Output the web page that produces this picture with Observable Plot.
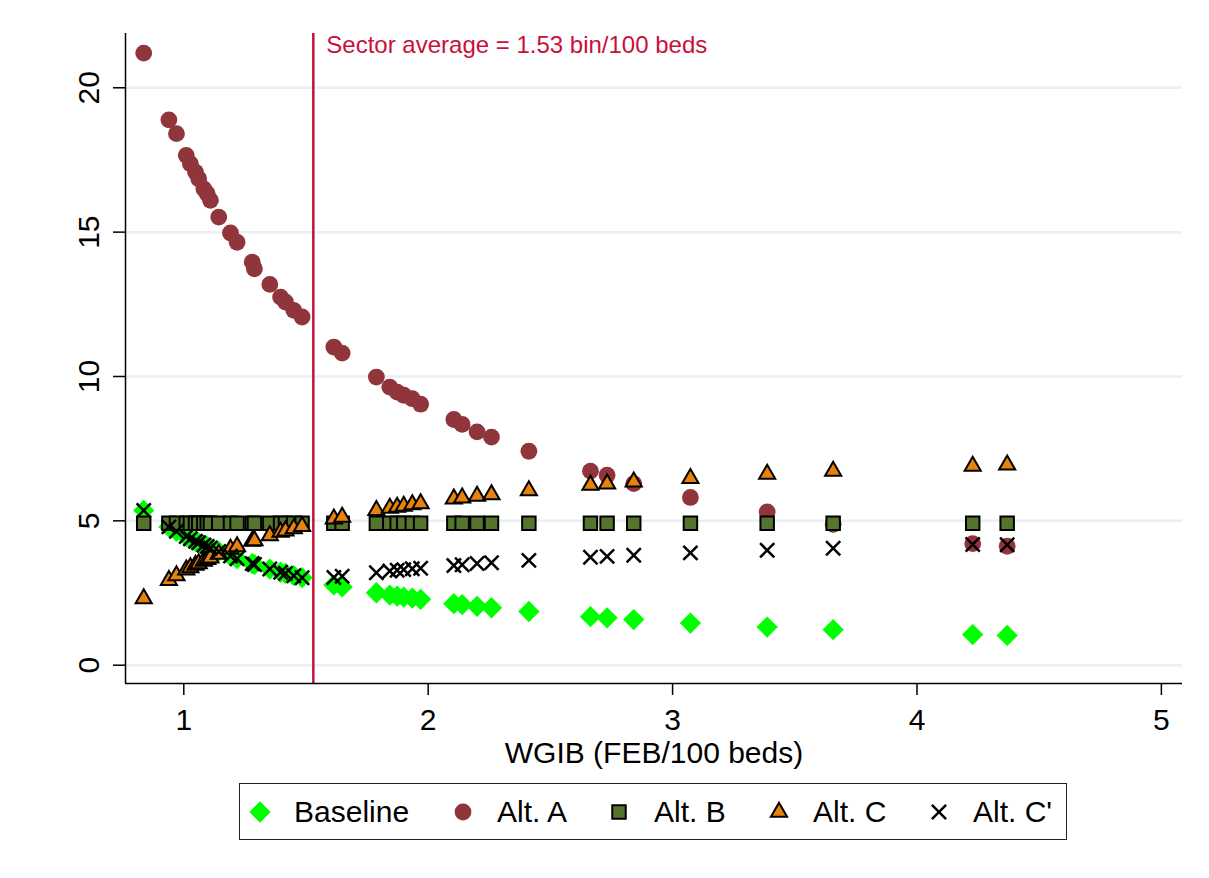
<!DOCTYPE html>
<html>
<head>
<meta charset="utf-8">
<script src="https://cdn.jsdelivr.net/npm/d3@7"></script>
<script src="https://cdn.jsdelivr.net/npm/@observablehq/plot@0.6"></script>
<style>
  body { margin: 0; background: #fff; font-family: "Liberation Sans", Arial, sans-serif; }
  #legend { position: relative; margin-left: 239px; margin-top: 13px; width: 828px; height: 57px;
            box-sizing: border-box; border: 1.5px solid #222; background: #fff; }
  .mk { position: absolute; top: 50%; transform: translate(-50%, -50%); display: block; }
  .lb { position: absolute; top: 50%; transform: translateY(-50%); font-size: 30px; color: #000; white-space: nowrap; line-height: 1; }
</style>
</head>
<body>
<div id="chart"></div>
<div id="legend"></div>
<script>
// ---- data ----
const wgib = [0.836, 0.939, 0.970, 1.010, 1.027, 1.048, 1.061, 1.082, 1.096, 1.109,
              1.143, 1.191, 1.218, 1.280, 1.289, 1.352, 1.396, 1.416, 1.450, 1.484,
              1.614, 1.648, 1.788, 1.843, 1.873, 1.900, 1.935, 1.969, 2.105, 2.139,
              2.200, 2.259, 2.412, 2.664, 2.732, 2.841, 3.073, 3.387, 3.657, 4.228, 4.369];

const baseline = [5.36, 4.79, 4.64, 4.46, 4.38, 4.29, 4.24, 4.16, 4.11, 4.06,
                  3.94, 3.78, 3.69, 3.52, 3.49, 3.33, 3.22, 3.18, 3.10, 3.03,
                  2.78, 2.71, 2.51, 2.43, 2.39, 2.36, 2.32, 2.28, 2.13, 2.10,
                  2.04, 1.99, 1.86, 1.68, 1.64, 1.58, 1.46, 1.32, 1.23, 1.06, 1.03];

const altA = [21.20, 18.89, 18.41, 17.66, 17.37, 17.08, 16.85, 16.50, 16.33, 16.10,
              15.52, 14.97, 14.65, 13.96, 13.73, 13.19, 12.75, 12.58, 12.29, 12.06,
              11.02, 10.81, 9.98, 9.63, 9.46, 9.35, 9.23, 9.04, 8.51, 8.34,
              8.08, 7.90, 7.41, 6.72, 6.58, 6.29, 5.81, 5.31, 4.88, 4.21, 4.12];

const altB = [4.92, 4.92, 4.92, 4.92, 4.92, 4.92, 4.92, 4.92, 4.92, 4.92,
              4.92, 4.92, 4.92, 4.92, 4.92, 4.92, 4.92, 4.92, 4.92, 4.92,
              4.92, 4.92, 4.92, 4.92, 4.92, 4.92, 4.92, 4.92, 4.92, 4.92,
              4.92, 4.92, 4.92, 4.92, 4.92, 4.92, 4.92, 4.92, 4.92, 4.92, 4.92];

const altC = [2.31, 2.94, 3.10, 3.30, 3.38, 3.47, 3.52, 3.61, 3.67, 3.72,
              3.85, 4.02, 4.11, 4.30, 4.32, 4.49, 4.61, 4.65, 4.73, 4.81,
              5.07, 5.13, 5.36, 5.44, 5.48, 5.51, 5.56, 5.60, 5.76, 5.80,
              5.86, 5.91, 6.05, 6.24, 6.28, 6.35, 6.47, 6.62, 6.72, 6.90, 6.94];

const altCprime = [5.36, 4.79, 4.64, 4.46, 4.38, 4.29, 4.24, 4.16, 4.11, 4.06,
                   3.94, 3.78, 3.69, 3.52, 3.49, 3.33, 3.22, 3.18, 3.10, 3.03,
                   3.04, 3.08, 3.20, 3.26, 3.29, 3.31, 3.34, 3.36, 3.45, 3.48,
                   3.52, 3.55, 3.63, 3.74, 3.77, 3.81, 3.89, 3.98, 4.05, 4.18, 4.17];

const seriesNames = ["Baseline", "Alt. A", "Alt. B", "Alt. C", "Alt. C'"];
const sectorAverage = 1.53;
const sectorLabel = "Sector average = 1.53 bin/100 beds";
const xTitle = "WGIB (FEB/100 beds)";
const xTicks = [1, 2, 3, 4, 5];
const yTicks = [0, 5, 10, 15, 20];

// ---- styles ----
const styles = [
  {symbol: "diamond2", r: 9.6, fill: "#00ff00", stroke: "none", strokeWidth: 0},
  {symbol: "circle",   r: 8.4, fill: "#90353b", stroke: "none", strokeWidth: 0},
  {symbol: "square",   r: 7.6, fill: "#55752f", stroke: "#000", strokeWidth: 2},
  {symbol: "triangle", r: 6.0, fill: "#e8820c", stroke: "#000", strokeWidth: 2},
  {symbol: "times",    r: 6.5, fill: "none",    stroke: "#000", strokeWidth: 2.5}
];
const seriesValues = [baseline, altA, altB, altC, altCprime];
const rowsOf = vals => wgib.map((x, i) => ({x, y: vals[i]}));

const xDomain = [0.7615, 5.0864];
const yDomain = [-0.634, 21.88];
const red = "#c8103c";

const dotMarks = seriesValues.map((vals, k) => {
  const s = styles[k];
  return Plot.dot(rowsOf(vals), {x: "x", y: "y", symbol: () => s.symbol, r: s.r,
    fill: s.fill, stroke: s.stroke, strokeWidth: s.strokeWidth});
});

const chart = Plot.plot({
  width: 1209, height: 770,
  marginLeft: 125, marginRight: 27, marginTop: 33, marginBottom: 87,
  style: {fontFamily: "'Liberation Sans', Arial, sans-serif", fontSize: "30px", color: "#000", background: "#fff"},
  x: {domain: xDomain},
  y: {domain: yDomain},
  symbol: {type: "identity"},
  marks: [
    Plot.gridY(yTicks, {stroke: "#e8f0f3", strokeOpacity: 1, strokeWidth: 2.5}),
    Plot.ruleX([sectorAverage], {stroke: red, strokeWidth: 2.5}),
    Plot.text([sectorLabel], {x: () => sectorAverage, text: d => d, frameAnchor: "top",
      textAnchor: "start", lineAnchor: "top", dx: 13, dy: 2, fill: red, fontSize: 24}),
    ...dotMarks,
    Plot.ruleX([xDomain[0]], {stroke: "#000", strokeWidth: 1.5}),
    Plot.ruleY([yDomain[0]], {stroke: "#000", strokeWidth: 1.5}),
    Plot.axisX(xTicks, {tickSize: 12, tickPadding: 13, strokeWidth: 1.5, label: null, fontSize: 30,
      tickFormat: d3.format("d")}),
    Plot.axisY(yTicks, {tickSize: 12, tickRotate: -90, tickPadding: 15, strokeWidth: 1.5, label: null, fontSize: 30,
      tickFormat: d3.format("d")}),
    Plot.text([xTitle], {text: d => d, frameAnchor: "bottom", lineAnchor: "bottom", dy: 79, fontSize: 30})
  ]
});
document.getElementById("chart").appendChild(chart);

// ---- legend (HTML) ----
const legend = document.getElementById("legend");
const markerLeft = [20, 223, 379, 539, 699];
const labelLeft = [54, 257, 414, 573, 733];
const d3types = {diamond2: d3.symbolDiamond2, circle: d3.symbolCircle, square: d3.symbolSquare,
                 triangle: d3.symbolTriangle, times: d3.symbolTimes};
seriesNames.forEach((name, k) => {
  const s = styles[k];
  const sz = 28;
  const svg = d3.create("svg").attr("class", "mk").attr("width", sz).attr("height", sz)
    .attr("viewBox", `${-sz/2} ${-sz/2} ${sz} ${sz}`).style("left", markerLeft[k] + "px");
  svg.append("path").attr("d", d3.symbol(d3types[s.symbol], Math.PI * s.r * s.r)())
    .attr("fill", s.fill).attr("stroke", s.stroke).attr("stroke-width", s.strokeWidth);
  legend.appendChild(svg.node());
  const lb = document.createElement("span");
  lb.className = "lb";
  lb.style.left = labelLeft[k] + "px";
  lb.textContent = name;
  legend.appendChild(lb);
});
</script>
</body>
</html>
